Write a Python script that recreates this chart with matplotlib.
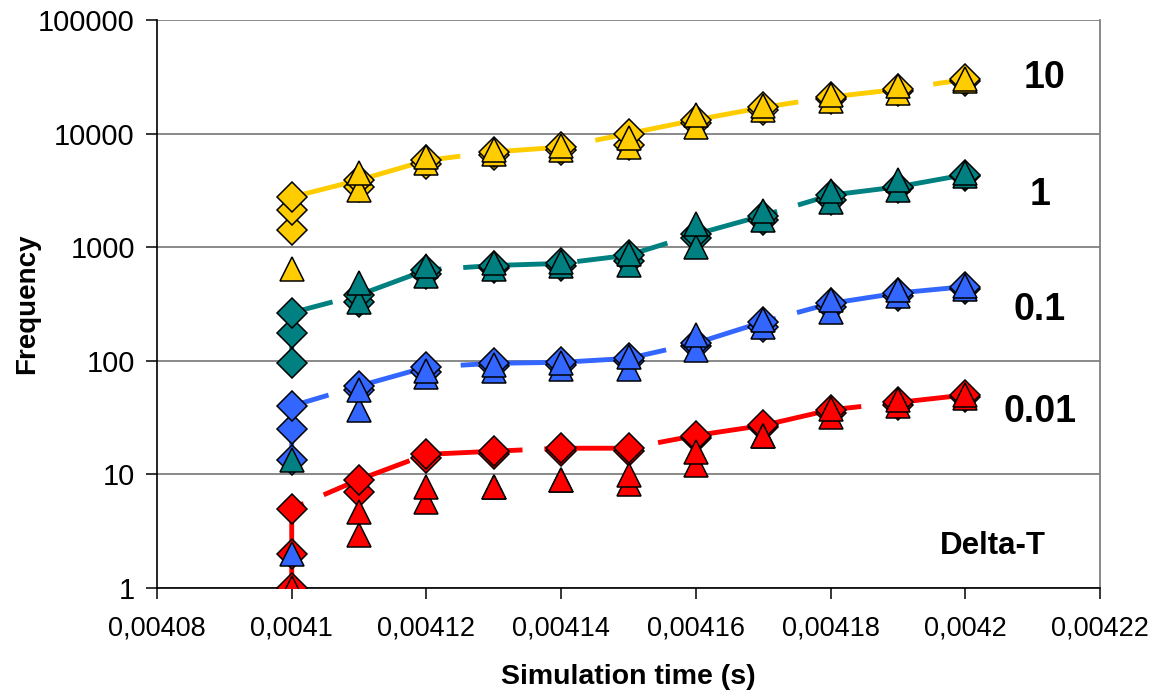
import matplotlib
matplotlib.use("Agg")
import matplotlib.pyplot as plt
from matplotlib.ticker import FixedLocator, NullLocator

plt.rcParams['font.family'] = ['Liberation Sans', 'DejaVu Sans']

# Simulation times (s)
t_first = [0.0041, 0.0041, 0.0041]
t_rest = [0.00411, 0.00412, 0.00413, 0.00414, 0.00415,
          0.00416, 0.00417, 0.00418, 0.00419, 0.0042]

# Delta-T = 10
dt10_main = [1420, 2125, 2760, 3900, 5800, 6900, 7600, 10000, 13200, 17000, 21000, 24500, 30000]
dt10_diam = [3400, 5400, 6500, 7200, 8000, 12300, 16000, 20000, 23500, 29000]
dt10_tri_a = [4500, 6200, 7100, 7800, 9200, 14500, 17500, 22000, 26000, 30500]
dt10_tri_b = [3200, 5500, 6600, 7200, 7600, 11500, 16000, 19500, 23000, 29000]
dt10_tri_first = [640]

# Delta-T = 1
dt1_main = [96, 176, 265, 380, 630, 690, 720, 850, 1300, 1900, 2870, 3400, 4350]
dt1_diam = [330, 580, 650, 690, 760, 1200, 1750, 2600, 3300, 4200]
dt1_tri_a = [480, 680, 720, 740, 880, 1600, 2100, 3100, 3900, 4500]
dt1_tri_b = [330, 560, 640, 680, 700, 1000, 1750, 2500, 3200, 4200]
dt1_tri_first = [13.4]

# Delta-T = 0.1
dt01_main = [13.4, 25, 40, 60, 88, 95, 97, 105, 143, 220, 320, 395, 450]
dt01_diam = [55, 80, 90, 92, 100, 135, 200, 300, 370, 430]
dt01_tri_a = [55, 82, 92, 95, 108, 168, 230, 340, 420, 460]
dt01_tri_b = [37, 72, 82, 85, 85, 125, 200, 270, 370, 430]
dt01_tri_first = [2.0]

# Delta-T = 0.01
dt001_main = [1.0, 2.0, 5.0, 9.0, 15, 16, 17, 17, 22, 27, 37, 43, 50]
dt001_diam = [7.0, 14, 15, 16, 16, 21, 26, 35, 41, 48]
dt001_tri_a = [4.7, 7.7, 7.7, 8.9, 9.9, 15.7, 22, 38, 45, 50]
dt001_tri_b = [2.9, 5.7, 7.7, 8.9, 8.3, 12, 22, 32, 40, 47]
dt001_tri_first = [1.0]

series = [
    ("#FFCC00", dt10_main, dt10_diam, dt10_tri_a, dt10_tri_b, dt10_tri_first),
    ("#008080", dt1_main, dt1_diam, dt1_tri_a, dt1_tri_b, dt1_tri_first),
    ("#3366FF", dt01_main, dt01_diam, dt01_tri_a, dt01_tri_b, dt01_tri_first),
    ("#FF0000", dt001_main, dt001_diam, dt001_tri_a, dt001_tri_b, dt001_tri_first),
]

x_ticks = [0.00408, 0.0041, 0.00412, 0.00414, 0.00416, 0.00418, 0.0042, 0.00422]
x_tick_labels = ["0,00408", "0,0041", "0,00412", "0,00414", "0,00416", "0,00418", "0,0042", "0,00422"]
y_ticks = [1, 10, 100, 1000, 10000, 100000]
y_tick_labels = ["1", "10", "100", "1000", "10000", "100000"]

curve_labels = ["10", "1", "0.1", "0.01"]

fig = plt.figure(figsize=(11.57, 6.98), dpi=100)
ax = fig.add_axes([157 / 1157, 1 - 588 / 698, (1100 - 157) / 1157, (588 - 20) / 698])

ax.set_yscale("log")
ax.set_xlim(x_ticks[0], x_ticks[-1])
ax.set_ylim(y_ticks[0], y_ticks[-1])

ax.yaxis.set_major_locator(FixedLocator(y_ticks))
ax.yaxis.set_minor_locator(NullLocator())
ax.set_yticklabels(y_tick_labels)
ax.set_xticks(x_ticks)
ax.set_xticklabels(x_tick_labels)

ax.grid(axis="y", color="#808080", lw=1.3, zorder=0)
ax.set_axisbelow(True)

dash = (0, (19, 4.5))
mk_d = 14.8
mk_t = 17
t_main = t_first + t_rest

for color, main, diam, tri_a, tri_b, tri_first in series:
    ax.plot(t_main, main, color=color, lw=3.5, linestyle=dash, zorder=2,
            solid_capstyle="butt", dash_capstyle="butt")
for color, main, diam, tri_a, tri_b, tri_first in series:
    ax.plot(t_rest, diam, linestyle="none", marker="D", ms=mk_d, mfc=color,
            mec="black", mew=1.1, zorder=3)
    ax.plot(t_main, main, linestyle="none", marker="D", ms=mk_d, mfc=color,
            mec="black", mew=1.1, zorder=3)
for color, main, diam, tri_a, tri_b, tri_first in series:
    ax.plot(t_rest, tri_b, linestyle="none", marker="^", ms=mk_t, mfc=color,
            mec="black", mew=1.1, zorder=4)
    ax.plot(t_rest, tri_a, linestyle="none", marker="^", ms=mk_t, mfc=color,
            mec="black", mew=1.1, zorder=4)
    ax.plot(t_first[:1], tri_first, linestyle="none", marker="^", ms=mk_t, mfc=color,
            mec="black", mew=1.1, zorder=5)

for side in ("left", "bottom"):
    ax.spines[side].set_color("black")
    ax.spines[side].set_linewidth(1.2)
ax.spines["top"].set_visible(False)
ax.spines["right"].set_color("#808080")
ax.spines["right"].set_linewidth(1.3)

ax.tick_params(axis="both", which="major", direction="out", length=8, width=1.1,
               color="black")
ax.tick_params(axis="y", pad=8, labelsize=21)
ax.tick_params(axis="x", pad=12, labelsize=19.5)

ax.set_xlabel("Simulation time (s)", fontsize=20.5, fontweight="bold", labelpad=16)
ax.set_ylabel("Frequency", fontsize=20, fontweight="bold")
ax.yaxis.set_label_coords(-0.124, 0.5)

label_pos = [(1045, 78), (1040, 195), (1040, 310), (1040, 412)]
for text, (px, py) in zip(curve_labels, label_pos):
    fig.text(px / 1157, 1 - py / 698, text, fontsize=27, fontweight="bold",
             ha="center", va="center")
fig.text(993 / 1157, 1 - 546 / 698, "Delta-T", fontsize=22.5, fontweight="bold",
         ha="center", va="center")

fig.savefig("out.png", dpi=100)
